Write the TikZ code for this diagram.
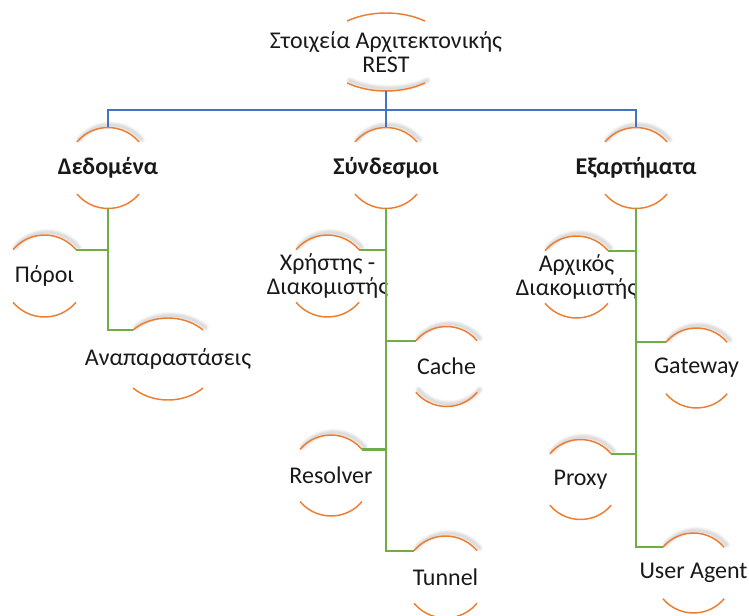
\documentclass[tikz,border=0pt]{standalone}
\usepackage{fontspec}
\setmainfont{Carlito}
\usetikzlibrary{calc,shapes.geometric}
\definecolor{arcorange}{HTML}{ED7D31}
\definecolor{busblue}{HTML}{4472C4}
\definecolor{leafgreen}{HTML}{70AD47}
\tikzset{
  ringshape/.style 2 args={ellipse, inner sep=0pt, outer sep=0pt,
    minimum width=#1*1.5pt, minimum height=#2*1.5pt},
  ring/.style={draw=arcorange, line width=1.1pt},
  ringshadow/.style={draw=black, line width=#1, draw opacity=0.035, line cap=round},
  label/.style={font=\fontsize{18}{18.5}\selectfont, text=black!90, align=center, inner sep=0pt},
  headlabel/.style={label, font=\fontsize{18}{18.5}\selectfont\bfseries},
  busline/.style={draw=busblue, line width=1.5pt},
  leafline/.style={draw=leafgreen, line width=1.6pt},
}
% arcs of a ring node: #1 name, #2 x radius, #3 y radius, #4 end angle,
% #5 soft shadow over the upper arc (1/0), #6 soft shadow over the lower arc (1/0)
\newcommand\ringarcs[6]{%
  \ifnum#5=1
    \foreach \w in {5.5pt,4pt,2.8pt,1.6pt}{%
      \draw[ringshadow=\w] ($(#1.center)+({#2*cos(#4)+2.5},{-#3*sin(#4)-2.5})$)
        arc[start angle=#4, end angle=180-#4, x radius=#2*0.75pt, y radius=#3*0.75pt];}
  \fi
  \ifnum#6=1
    \foreach \w in {5.5pt,4pt,2.8pt,1.6pt}{%
      \draw[ringshadow=\w] ($(#1.center)+({-#2*cos(#4)+2.5},{#3*sin(#4)-2.5})$)
        arc[start angle=180+#4, end angle=360-#4, x radius=#2*0.75pt, y radius=#3*0.75pt];}
  \fi
  \draw[ring] ($(#1.center)+({#2*cos(#4)},{-#3*sin(#4)})$)
    arc[start angle=#4, end angle=180-#4, x radius=#2*0.75pt, y radius=#3*0.75pt];
  \draw[ring] ($(#1.center)+({-#2*cos(#4)},{#3*sin(#4)})$)
    arc[start angle=180+#4, end angle=360-#4, x radius=#2*0.75pt, y radius=#3*0.75pt];
}
\begin{document}
\begin{tikzpicture}[x=0.75pt, y=-0.75pt]
\path[use as bounding box] (0,0) rectangle (749,616);

% ring shapes (empty) and their labels
\node[ringshape={64}{39}] (top) at (386,52) {};
\node[label] (top-t) at (top.center) {Στοιχεία Αρχιτεκτονικής\\REST};

\node[ringshape={40.5}{40.5}] (dat) at (108,168) {};
\node[headlabel] (dat-t) at (dat.center) {Δεδομένα};
\node[ringshape={40.5}{40.5}] (syn) at (386,168) {};
\node[headlabel] (syn-t) at (syn.center) {Σύνδεσμοι};
\node[ringshape={40.5}{40.5}] (exa) at (636,168) {};
\node[headlabel] (exa-t) at (exa.center) {Εξαρτήματα};

\node[ringshape={41}{41}] (por) at (44.5,276) {};
\node[label] (por-t) at (por.center) {Πόροι};
\node[ringshape={49.5}{41}] (rep) at (168,359) {};
\node[label] (rep-t) at (rep.center) {Αναπαραστάσεις};

\node[ringshape={41}{41}] (cli) at (327.5,276) {};
\node[label] (cli-t) at (cli.center) {Χρήστης -\\Διακομιστής};
\node[ringshape={40}{40}] (cac) at (446.5,366.5) {};
\node[label] (cac-t) at (cac.center) {Cache};
\node[ringshape={40.5}{40.5}] (res) at (331,475.5) {};
\node[label] (res-t) at (res.center) {Resolver};
\node[ringshape={41}{41}] (tun) at (445.5,577) {};
\node[label] (tun-t) at (tun.center) {Tunnel};

\node[ringshape={41}{41}] (ori) at (576.5,277) {};
\node[label] (ori-t) at (ori.center) {Αρχικός\\Διακομιστής};
\node[ringshape={40}{40}] (gat) at (696.5,368) {};
\node[label] (gat-t) at (gat.center) {Gateway};
\node[ringshape={40}{40}] (pro) at (580.5,479.5) {};
\node[label] (pro-t) at (pro.center) {Proxy};
\node[ringshape={40}{40}] (ua) at (693.5,573) {};
\node[label] (ua-t) at (ua.center) {User Agent};

% orange arcs round every label
\ringarcs{top}{64}{39}{52.5}{0}{1}
\ringarcs{dat}{40.5}{40.5}{40}{1}{0}
\ringarcs{syn}{40.5}{40.5}{40}{1}{0}
\ringarcs{exa}{40.5}{40.5}{40}{1}{0}
\ringarcs{por}{41}{41}{40}{1}{0}
\ringarcs{rep}{49.5}{41}{45}{1}{0}
\ringarcs{cli}{41}{41}{40}{1}{0}
\ringarcs{cac}{40}{40}{40}{1}{1}
\ringarcs{res}{40.5}{40.5}{40}{1}{0}
\ringarcs{tun}{41}{41}{40}{1}{0}
\ringarcs{ori}{41}{41}{40}{1}{0}
\ringarcs{gat}{40}{40}{40}{1}{0}
\ringarcs{pro}{40}{40}{40}{1}{0}
\ringarcs{ua}{40}{40}{40}{1}{0}

% blue bus from the root to the three groups
\coordinate (bus) at (386,110);
\draw[busline] (top.south) -- (bus);
\draw[busline] (bus) -| (dat.north);
\draw[busline] (bus) -- (syn.north);
\draw[busline] (bus) -| (exa.north);

% green branches to the members of each group
\draw[leafline] (dat.south) |- (por.40);
\draw[leafline] (dat.south) |- (rep.140.4);

\draw[leafline] (syn.south) |- (cli.40);
\draw[leafline] (syn.south) |- (cac.140);
\draw[leafline] (syn.south) |- (res.40);
\draw[leafline] (syn.south) |- (tun.140);

\draw[leafline] (exa.south) |- (ori.40);
\draw[leafline] (exa.south) |- (gat.140);
\draw[leafline] (exa.south) |- (pro.40);
\draw[leafline] (exa.south) |- (ua.140);
\end{tikzpicture}
\end{document}
